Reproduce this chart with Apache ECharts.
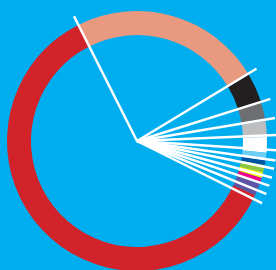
<!DOCTYPE html>
<html>
<head>
<meta charset="utf-8">
<script src="https://cdn.jsdelivr.net/npm/echarts@6/dist/echarts.min.js"></script>
<style>
  html, body { margin: 0; padding: 0; background: #00aeef; }
  #chart { width: 276px; height: 270px; }
</style>
</head>
<body>
<div id="chart"></div>
<script>
// ring segments, clockwise from the top-left spoke (values are angular shares)
const segmentNames = ['salmon', 'black', 'gray', 'lightgray', 'white', 'lightblue', 'darkblue', 'green', 'yellow', 'magenta', 'purple', 'red']
const segmentValues = [86, 13, 9, 7, 7, 3.4, 2.1, 3.3, 2.5, 2.7, 5.5, 218.5]
const segmentColors = ['#e8997f', '#231f20', '#6d6e71', '#bcbec0', '#ffffff', '#6dcff6', '#0054a6', '#8dc63f', '#fff200', '#ec008c', '#5b57a6', '#d2232a']

// white spokes, angle in degrees counter-clockwise from east
const spokeAngles = [116.8, 31.2, 17.5, 9.5, 2.5, 356.2, 352, 348.6, 344.8, 341.3, 337.7, 333.5]
const spokeLength = 140

const chart = echarts.init(document.getElementById('chart'))

const spokeSeries = spokeAngles.map(a => ({
    type: 'line',
    coordinateSystem: 'polar',
    symbol: 'none',
    silent: true,
    z: 5,
    lineStyle: { color: '#ffffff', width: 2.5 },
    data: [[0, a], [spokeLength, a]]
}))

chart.setOption({
    backgroundColor: '#00aeef',
    animation: false,
    polar: { center: [137, 141], radius: spokeLength },
    angleAxis: {
        type: 'value', min: 0, max: 360, startAngle: 0, clockwise: false,
        show: false
    },
    radiusAxis: { type: 'value', min: 0, max: spokeLength, show: false },
    series: [
        {
            type: 'pie',
            center: [137, 141],
            radius: [106, 130],
            startAngle: 116.8,
            clockwise: true,
            silent: true,
            z: 2,
            label: { show: false },
            labelLine: { show: false },
            itemStyle: { borderWidth: 0 },
            data: segmentNames.map((n, i) => ({
                name: n,
                value: segmentValues[i],
                itemStyle: { color: segmentColors[i] }
            }))
        },
        ...spokeSeries
    ]
})
</script>
</body>
</html>
